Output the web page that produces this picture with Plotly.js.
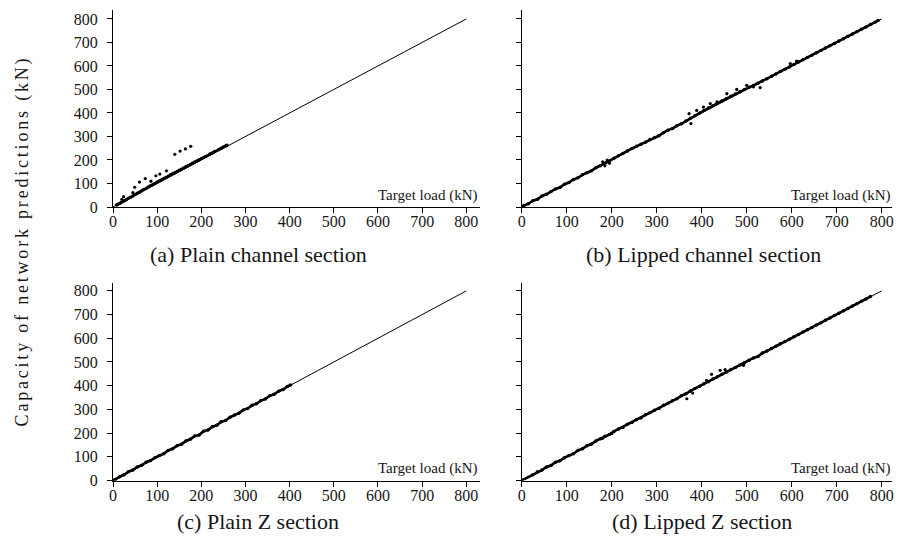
<!DOCTYPE html>
<html>
<head>
<meta charset="utf-8">
<script src="https://cdn.plot.ly/plotly-3.0.1.min.js"></script>
<style>
html,body{margin:0;padding:0;background:#fff;}
#chart{width:898px;height:538px;}
</style>
</head>
<body>
<div id="chart"></div>
<script>
// ---- data ----
const diagX = [0, 800];
const diagY = [0, 800];

// (a) Plain channel section: main band and scattered points
const bandAx = [8,12,16,20,25,30,35,40,45,50,55,60,65,70,75,80,85,90,95,100,105,110,115,120,125,130,135,140,145,150,155,160,165,170,175,180,185,190,195,200,205,210,220,225,230,240,245,250,255,258];
const bandAy = [8,13,16,21,26,31,37,42,47,53,58,63,69,74,79,85,90,95,100,106,111,116,121,126,131,137,141,146,151,156,161,166,171,176,181,186,191,196,201,206,211,215,226,230,236,245,250,255,260,263];
const outAx = [20,24,45,49,60,73,86,97,106,121,140,152,164,176];
const outAy = [33,44,61,84,106,121,110,133,140,154,224,238,247,258];

// (b) Lipped channel section
const bandBx = [0,5,15,25,35,45,55,65,75,85,95,105,115,125,135,145,155,165,175,185,195,205,215,225,235,245,255,265,275,285,295,305,315,325,335,345,355,365,375,385,395,405,415,425,435,445,455,465,475,485,495,505,515,525,535,545,555,565,575,585,595,605,615,625,635,645,655,665,675,685,695,705,715,725,735,745,755,765,775,785,792];
const bandBy = [0,6,14,27,33,47,54,66,77,83,97,104,117,124,137,146,154,167,176,186,196,207,218,228,238,249,258,267,275,287,296,303,316,327,334,346,354,366,377,388,399,410,421,431,441,451,461,471,481,490,500,509,517,526,536,546,556,566,576,586,596,606,617,626,636,646,656,666,676,686,696,706,716,726,736,746,756,766,776,786,793];
const outBx = [180,185,190,195,372,376,389,404,419,434,456,478,500,515,530,597,611];
const outBy = [192,175,200,186,397,355,411,425,440,447,482,500,518,511,508,610,621];

// (c) Plain Z section
const bandCx = [0,5,15,25,35,45,55,65,75,85,95,105,115,125,135,145,155,165,175,185,195,205,215,225,235,245,255,265,275,285,295,305,315,325,335,345,355,365,375,385,395,402];
const bandCy = [0,4,16,24,37,44,57,64,77,84,96,106,113,127,134,147,153,167,174,188,192,208,213,227,233,248,253,267,276,284,297,304,317,324,337,344,358,364,377,384,397,403];

// (d) Lipped Z section
const bandDx = [0,25,35,45,55,65,75,85,95,105,115,125,135,145,155,165,175,185,195,205,215,225,235,245,255,265,275,285,295,305,315,325,335,345,355,365,375,385,395,405,415,425,435,445,455,465,475,485,495,505,515,525,535,545,555,565,575,585,595,605,615,625,635,645,655,665,675,685,695,705,715,725,735,745,755,765,775];
const bandDy = [0,24,37,44,57,63,77,83,96,106,113,127,134,147,154,167,176,187,194,207,217,224,237,245,257,264,277,286,296,304,317,326,336,345,358,366,378,388,397,408,417,428,438,448,458,468,477,487,497,507,517,523,538,546,557,566,577,586,596,606,616,627,636,646,656,666,676,686,696,706,716,726,736,746,756,766,776];
const outDx = [180,200,367,380,411,422,441,452,493];
const outDy = [178,198,345,369,423,448,465,468,486];

const tickVals = [0,100,200,300,400,500,600,700,800];
const tickText = ['0','100','200','300','400','500','600','700','800'];

const subTitles = ['(a) Plain channel section','(b) Lipped channel section','(c) Plain Z section','(d) Lipped Z section'];
const xLabel = 'Target load (kN)';
const yLabel = 'Capacity of network predictions (kN)';

// ---- chart ----
const FONT = '"Liberation Serif", "Times New Roman", serif';
const TXT = '#161616';

function band(x, y, xa, ya) {
  return {x: x, y: y, xaxis: xa, yaxis: ya, type: 'scatter', mode: 'lines+markers',
    line: {color: '#000', width: 2.6}, marker: {color: '#000', size: 3.5, line: {width: 0}},
    hoverinfo: 'skip', showlegend: false};
}
function pts(x, y, xa, ya) {
  return {x: x, y: y, xaxis: xa, yaxis: ya, type: 'scatter', mode: 'markers',
    marker: {color: '#000', size: 3.2, line: {width: 0}}, hoverinfo: 'skip', showlegend: false};
}
function diag(xa, ya) {
  return {x: diagX, y: diagY, xaxis: xa, yaxis: ya, type: 'scatter', mode: 'lines',
    line: {color: '#000', width: 1}, hoverinfo: 'skip', showlegend: false};
}

const data = [
  diag('x5','y'), band(bandAx, bandAy, 'x', 'y'), pts(outAx, outAy, 'x', 'y'),
  diag('x6','y2'), band(bandBx, bandBy, 'x2', 'y2'), pts(outBx, outBy, 'x2', 'y2'),
  diag('x7','y3'), band(bandCx, bandCy, 'x3', 'y3'),
  diag('x8','y4'), band(bandDx, bandDy, 'x4', 'y4'), pts(outDx, outDy, 'x4', 'y4')
];

// labelled x axes (no tick marks, so the labels sit close to the line)
function xax(domain, range, anchor) {
  return {domain: domain, range: range, anchor: anchor, showgrid: false, zeroline: false,
    showline: true, linecolor: '#000', linewidth: 1, ticks: '',
    tickvals: tickVals, ticktext: tickText,
    tickfont: {family: FONT, size: 16, color: TXT}, fixedrange: true};
}
// overlay x axes carrying the outward tick marks
function xtk(over, range, anchor) {
  return {overlaying: over, range: range, anchor: anchor, showgrid: false, zeroline: false,
    showline: false, ticks: 'outside', ticklen: 5, tickwidth: 1, tickcolor: '#000',
    tickvals: tickVals, showticklabels: false, fixedrange: true};
}
function yax(domain, range, anchor, labels) {
  return {domain: domain, range: range, anchor: anchor, showgrid: false, zeroline: false,
    showline: true, linecolor: '#000', linewidth: 1, ticks: 'outside', ticklen: 5, tickwidth: 1,
    tickcolor: '#000', tickvals: tickVals, ticktext: tickText, showticklabels: labels,
    ticklabelstandoff: 6, tickfont: {family: FONT, size: 16, color: TXT}, fixedrange: true};
}

const W = 898, H = 538;
const px = v => v / W;
const py = v => 1 - v / H;

const dAx = [px(113), px(480)];
const dBx = [px(521.7), px(892)];
const dTop = [py(207), py(10)];
const dBot = [py(480.5), py(283.3)];
const rA = [0, 831], rB = [0, 823];

function xLab(x, y) {
  return {text: xLabel, xref: 'paper', yref: 'paper', x: px(x), y: py(y), xanchor: 'right', yanchor: 'bottom',
    showarrow: false, font: {family: FONT, size: 15, color: TXT}};
}
function sub(i, x, y) {
  return {text: subTitles[i], xref: 'paper', yref: 'paper', x: px(x), y: py(y), xanchor: 'center', yanchor: 'middle',
    showarrow: false, font: {family: FONT, size: 22, color: TXT}};
}

const layout = {
  width: W, height: H,
  margin: {l: 0, r: 0, t: 0, b: 0},
  paper_bgcolor: '#fff', plot_bgcolor: 'rgba(0,0,0,0)',
  showlegend: false,
  xaxis: xax(dAx, rA, 'y'),
  yaxis: yax(dTop, [0, 838], 'x', true),
  xaxis2: xax(dBx, rB, 'y2'),
  yaxis2: yax(dTop, [0, 838], 'x2', false),
  xaxis3: xax(dAx, rA, 'y3'),
  yaxis3: yax(dBot, [0, 832], 'x3', true),
  xaxis4: xax(dBx, rB, 'y4'),
  yaxis4: yax(dBot, [0, 832], 'x4', false),
  xaxis5: xtk('x', rA, 'y'),
  xaxis6: xtk('x2', rB, 'y2'),
  xaxis7: xtk('x3', rA, 'y3'),
  xaxis8: xtk('x4', rB, 'y4'),
  annotations: [
    xLab(479, 206), xLab(892, 206), xLab(479, 479), xLab(892, 479),
    sub(0, 258, 254), sub(1, 703, 254), sub(2, 258, 521), sub(3, 702, 521),
    {text: yLabel, xref: 'paper', yref: 'paper', x: px(22), y: py(241), xanchor: 'center', yanchor: 'middle',
      textangle: -90, showarrow: false, font: {family: FONT, size: 18, color: TXT}}
  ]
};

Plotly.newPlot('chart', data, layout, {displayModeBar: false, staticPlot: true}).then(function () {
  document.querySelectorAll('.annotation-text').forEach(function (t) {
    if (t.textContent === yLabel) t.style.letterSpacing = '2.8px';
  });
});
</script>
</body>
</html>
